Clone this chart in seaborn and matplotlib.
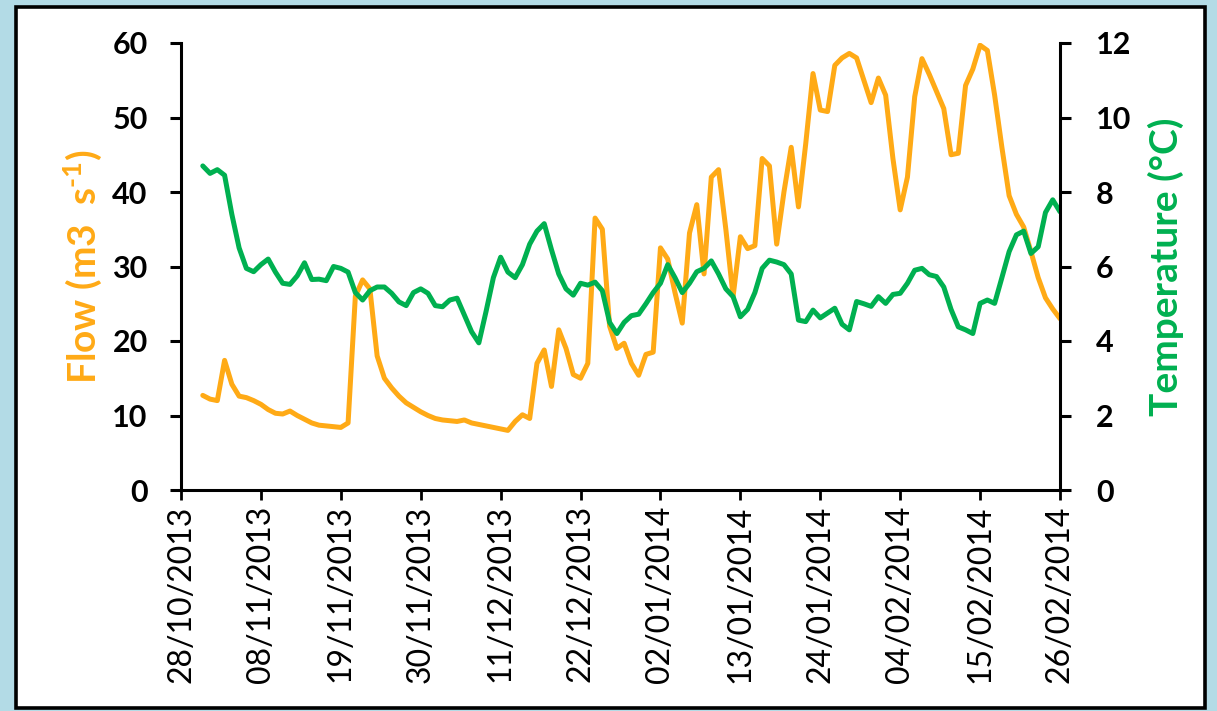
import numpy as np
import pandas as pd
import matplotlib
matplotlib.use("Agg")
import matplotlib.pyplot as plt
import seaborn as sns
from matplotlib.patches import Rectangle

# Daily river flow (m3/s) and water temperature (°C), 31/10/2013 - 26/02/2014
start_date = "2013-10-31"

flow = [
    12.7, 12.2, 12.0, 17.4, 14.2, 12.6, 12.4, 12.0, 11.5, 10.8,
    10.3, 10.2, 10.6, 10.0, 9.5, 9.0, 8.7, 8.6, 8.5, 8.4,
    9.0, 26.0, 28.2, 27.0, 18.0, 15.0, 13.7, 12.6, 11.7, 11.1,
    10.5, 10.0, 9.6, 9.4, 9.3, 9.2, 9.4, 9.0, 8.8, 8.6,
    8.4, 8.2, 8.0, 9.2, 10.1, 9.6, 17.0, 18.8, 13.9, 21.5,
    19.0, 15.5, 15.0, 17.0, 36.5, 35.0, 22.0, 19.0, 19.7, 17.0,
    15.4, 18.2, 18.5, 32.5, 31.0, 26.5, 22.4, 34.5, 38.3, 29.0,
    42.0, 43.0, 35.0, 26.0, 34.0, 32.4, 32.8, 44.5, 43.5, 33.0,
    40.0, 46.0, 38.0, 46.5, 55.9, 51.0, 50.8, 57.0, 58.0, 58.6,
    58.0, 55.0, 52.0, 55.3, 53.0, 44.5, 37.6, 42.0, 52.8, 57.9,
    55.8, 53.5, 51.2, 45.0, 45.2, 54.3, 56.5, 59.7, 59.0, 53.0,
    46.0, 39.5, 37.0, 35.3, 32.0, 28.5, 25.8, 24.3, 23.0,
]

temperature = [
    8.70, 8.50, 8.60, 8.45, 7.40, 6.50, 5.95, 5.86, 6.05, 6.20,
    5.85, 5.55, 5.52, 5.75, 6.10, 5.65, 5.66, 5.62, 6.00, 5.95,
    5.85, 5.30, 5.10, 5.35, 5.45, 5.45, 5.28, 5.05, 4.95, 5.30,
    5.40, 5.28, 4.95, 4.92, 5.10, 5.15, 4.70, 4.25, 3.95, 4.80,
    5.70, 6.25, 5.85, 5.70, 6.05, 6.60, 6.95, 7.15, 6.45, 5.80,
    5.40, 5.23, 5.55, 5.50, 5.58, 5.35, 4.50, 4.20, 4.50, 4.68,
    4.72, 5.00, 5.30, 5.55, 6.05, 5.70, 5.30, 5.55, 5.86, 5.95,
    6.15, 5.80, 5.40, 5.19, 4.65, 4.85, 5.30, 5.95, 6.17, 6.12,
    6.05, 5.80, 4.56, 4.52, 4.83, 4.62, 4.75, 4.88, 4.45, 4.30,
    5.06, 5.00, 4.93, 5.19, 5.01, 5.25, 5.28, 5.55, 5.90, 5.95,
    5.78, 5.73, 5.45, 4.85, 4.38, 4.30, 4.20, 5.01, 5.10, 5.01,
    5.70, 6.40, 6.85, 6.95, 6.35, 6.53, 7.45, 7.79, 7.47,
]

tick_labels = [
    "28/10/2013", "08/11/2013", "19/11/2013", "30/11/2013",
    "11/12/2013", "22/12/2013", "02/01/2014", "13/01/2014",
    "24/01/2014", "04/02/2014", "15/02/2014", "26/02/2014",
]
flow_ticks = [0, 10, 20, 30, 40, 50, 60]
temp_ticks = [0, 2, 4, 6, 8, 10, 12]

ORANGE = "#FFAA16"
GREEN = "#00B050"

sns.set_theme(style="white")
plt.rcParams["font.family"] = ["Lato", "DejaVu Sans"]
plt.rcParams["mathtext.fontset"] = "custom"
plt.rcParams["mathtext.rm"] = "Lato:bold"
plt.rcParams["mathtext.bf"] = "Lato:bold"
plt.rcParams["mathtext.default"] = "bf"

dates = pd.date_range(start_date, periods=len(flow), freq="D")
df = pd.DataFrame({"date": dates, "flow": flow, "temperature": temperature})
tick_dates = pd.to_datetime(tick_labels, format="%d/%m/%Y")

W, H = 1217, 711
fig = plt.figure(figsize=(W / 100, H / 100), dpi=100, facecolor="#b3dbe6")

# white panel with a dark frame, kept behind the axes
fig.patches.append(Rectangle((15.5 / W, 3 / H), (1205 - 15.5) / W, (704 - 3) / H,
                             transform=fig.transFigure, facecolor="white",
                             edgecolor="black", lw=2.6, zorder=-10))

ax = fig.add_axes([181 / W, 1 - 490 / H, 879 / W, 447 / H])
ax.patch.set_visible(False)
ax2 = ax.twinx()

line_kw = dict(lw=3.6, solid_joinstyle="round", solid_capstyle="round")
sns.lineplot(data=df, x="date", y="flow", ax=ax, color=ORANGE, **line_kw)
sns.lineplot(data=df, x="date", y="temperature", ax=ax2, color=GREEN, **line_kw)

ax.set_xlim(tick_dates[0], tick_dates[-1])
ax.set_ylim(0, 60)
ax2.set_ylim(0, 12)
ax.set_xticks(tick_dates)
ax.set_xticklabels(tick_labels, rotation=90, fontsize=23)
ax.set_yticks(flow_ticks)
ax.set_yticklabels([str(v) for v in flow_ticks], fontsize=22, fontweight="bold")
ax2.set_yticks(temp_ticks)
ax2.set_yticklabels([str(v) for v in temp_ticks], fontsize=22, fontweight="bold")

for a in (ax, ax2):
    a.spines["top"].set_visible(False)
    a.grid(False)
ax.spines["right"].set_visible(False)
ax2.spines["left"].set_visible(False)
ax2.spines["bottom"].set_visible(False)
for s in ("left", "bottom"):
    ax.spines[s].set_linewidth(2.2)
    ax.spines[s].set_color("black")
ax2.spines["right"].set_linewidth(2.2)
ax2.spines["right"].set_color("black")

ax.tick_params(axis="y", direction="out", length=8, width=2.2, pad=16, colors="black", left=True)
ax2.tick_params(axis="y", direction="out", length=8, width=2.2, pad=18, colors="black", right=True)
ax.tick_params(axis="x", direction="out", length=7, width=2.0, pad=4, colors="black", bottom=True)

ax.set_xlabel("")
ax.set_ylabel(r"Flow (m3  s$^{\text{-1}}$)", color=ORANGE, fontsize=28, fontweight="bold", labelpad=6)
ax2.set_ylabel("Temperature (°C)", color=GREEN, fontsize=28, fontweight="bold", labelpad=12)

fig.savefig("out.png", dpi=100, facecolor=fig.get_facecolor())
